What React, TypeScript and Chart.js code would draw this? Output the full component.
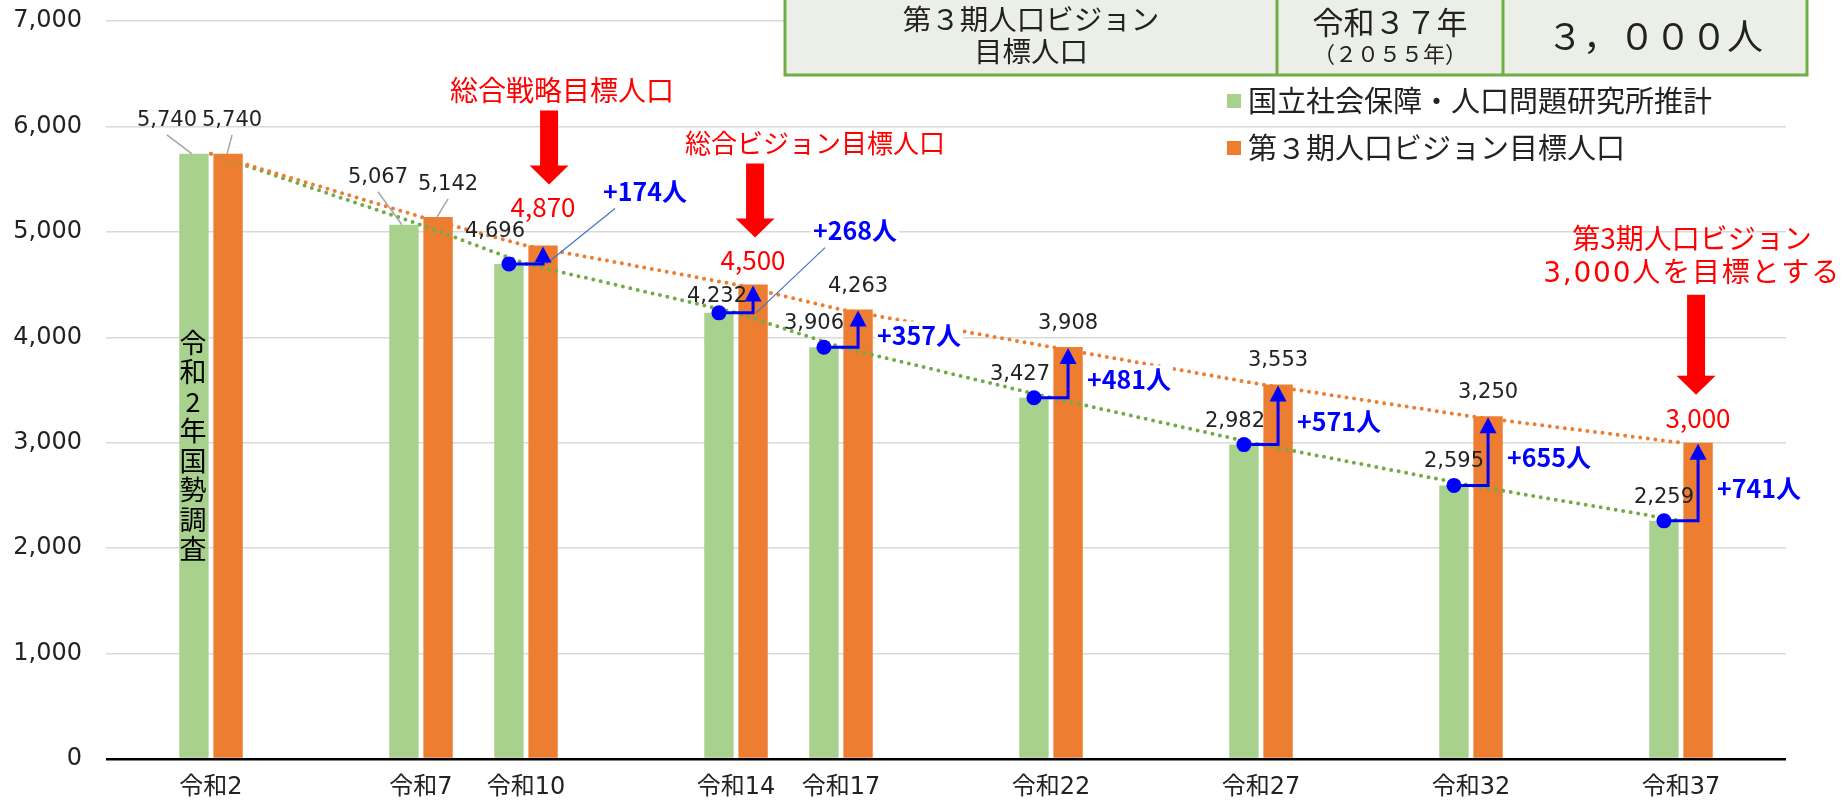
import React, { useEffect, useRef } from 'react';
import { Chart, registerables } from 'chart.js';

Chart.register(...registerables);

// ---------- data ----------
const categories = ['', '令和2', '', '令和7', '令和10', '', '令和14', '令和17', '', '令和22', '', '令和27', '', '令和32', '', '令和37', ''];
const projectedPopulation: (number | null)[] = [null, 5740, null, 5067, 4696, null, 4232, 3906, null, 3427, null, 2982, null, 2595, null, 2259, null];
const targetPopulation: (number | null)[] = [null, 5740, null, 5142, 4870, null, 4500, 4263, null, 3908, null, 3553, null, 3250, null, 3000, null];
const seriesLabels = ['国立社会保障・人口問題研究所推計', '第３期人口ビジョン目標人口'];
const yAxisMin = 0;
const yAxisMax = 7000;
const yAxisStep = 1000;
const gapCategories = ['令和10', '令和14', '令和17', '令和22', '令和27', '令和32', '令和37'];
const gapLeaderCategories = ['令和10', '令和14'];
const highlightCategories = ['令和10', '令和14', '令和37'];
const calloutTexts = [['総合戦略目標人口'], ['総合ビジョン目標人口'], ['第3期人口ビジョン', '3,000人を目標とする']];
const censusNote = '令和2年国勢調査';
const tableVision = ['第３期人口ビジョン', '目標人口'];
const tableYear = ['令和３７年', '（２０５５年）'];
const tableTarget = ['３，０００人'];

// ---------- style ----------
const FONT = '"Noto Sans CJK JP", "Noto Sans", sans-serif';
const NUM_FONT = '"DejaVu Sans", "Noto Sans CJK JP", sans-serif';
const COL = {
  green: '#A9D18E',
  orange: '#ED7D31',
  greenLine: '#70AD47',
  blue: '#0000FF',
  leader: '#4472C4',
  red: '#FF0000',
  text: '#222222',
  grid: '#D9D9D9',
  gray: '#A6A6A6',
  tableBg: '#EBEFE8',
  tableBorder: '#70AD47',
};
const calloutLayout = [
  { lift: 38, arrowDx: 6, arrowLength: 74, textDx: 13, size: 28 },
  { lift: 24, arrowDx: 2, arrowLength: 74, textDx: 60, size: 26 },
  { lift: 25, arrowDx: -2, arrowLength: 100, textDx: -4, size: 28 },
];
const leaderLabelLayout: Record<string, { g: [number, number]; o: [number, number] }> = {
  '令和2': { g: [-27, -33], o: [4, -33] },
  '令和7': { g: [-26, -47], o: [10, -32] },
};
const greenLabelNudge: Record<string, [number, number]> = {
  '令和10': [-14, -32],
  '令和14': [-2, -16],
  '令和17': [-10, -23.5],
  '令和22': [-14, -23.5],
  '令和27': [-9, -23.5],
};

const fmt = (v: number) => v.toLocaleString('en-US');

function drawText(
  ctx: CanvasRenderingContext2D,
  str: string,
  x: number,
  y: number,
  size: number,
  color: string,
  align: CanvasTextAlign = 'center',
  weight = 'normal',
  family = FONT,
  spacing = 0
) {
  ctx.save();
  ctx.font = `${weight} ${size}px ${family}`;
  ctx.fillStyle = color;
  ctx.textAlign = align;
  ctx.textBaseline = 'middle';
  if (spacing) (ctx as any).letterSpacing = `${spacing}px`;
  ctx.fillText(str, x, y);
  ctx.restore();
}

function line(ctx: CanvasRenderingContext2D, pts: number[][], color: string, width: number) {
  ctx.save();
  ctx.strokeStyle = color;
  ctx.lineWidth = width;
  ctx.beginPath();
  pts.forEach((p, k) => (k === 0 ? ctx.moveTo(p[0], p[1]) : ctx.lineTo(p[0], p[1])));
  ctx.stroke();
  ctx.restore();
}

const annotationPlugin = {
  id: 'populationAnnotations',
  afterDatasetsDraw(chart: any) {
    const ctx: CanvasRenderingContext2D = chart.ctx;
    const gMeta = chart.getDatasetMeta(0);
    const oMeta = chart.getDatasetMeta(1);
    const yScale = chart.scales.y;

    // value labels
    categories.forEach((cat, i) => {
      const gv = projectedPopulation[i];
      const ov = targetPopulation[i];
      if (gv == null || ov == null) return;
      const g = gMeta.data[i];
      const o = oMeta.data[i];
      const lead = leaderLabelLayout[cat];
      if (lead) {
        const gx = g.x + lead.g[0], gy = g.y + lead.g[1];
        const ox = o.x + lead.o[0], oy = o.y + lead.o[1];
        line(ctx, [[gx, gy + 14], [g.x - 2, g.y]], COL.gray, 1.5);
        line(ctx, [[ox, oy + 14], [o.x - 1, o.y]], COL.gray, 1.5);
        drawText(ctx, fmt(gv), gx, gy, 21, COL.text, 'center', 'normal', NUM_FONT);
        drawText(ctx, fmt(ov), ox, oy, 21, COL.text, 'center', 'normal', NUM_FONT);
        return;
      }
      const n = greenLabelNudge[cat] || [0, -23.5];
      drawText(ctx, fmt(gv), g.x + n[0], g.y + n[1], 21, COL.text, 'center', 'normal', NUM_FONT);
      const h = highlightCategories.indexOf(cat);
      if (h < 0) drawText(ctx, fmt(ov), o.x, o.y - 23.5, 21, COL.text, 'center', 'normal', NUM_FONT);
    });

    // census note inside first bar
    {
      const i = projectedPopulation.findIndex((v) => v != null);
      const g = gMeta.data[i];
      const startY = yScale.getPixelForValue(3950);
      Array.from(censusNote).forEach((ch, k) => {
        drawText(ctx, ch, g.x - 1, startY + k * 29.5, 27, '#000');
      });
    }

    // gap arrows (blue)
    gapCategories.forEach((cat) => {
      const i = categories.indexOf(cat);
      const gv = projectedPopulation[i] as number;
      const ov = targetPopulation[i] as number;
      const g = gMeta.data[i];
      const o = oMeta.data[i];
      const label = `+${ov - gv}人`;
      let lx: number, ly: number;
      if (gapLeaderCategories.includes(cat)) {
        lx = o.x + 60;
        ly = o.y - 54;
        line(ctx, [[o.x + 3, g.y], [o.x + 72, o.y - 37]], COL.leader, 1.2);
      } else {
        lx = o.x + 19;
        ly = (g.y + o.y) / 2 + 7;
      }
      ctx.save();
      ctx.strokeStyle = COL.blue;
      ctx.lineWidth = 3;
      ctx.beginPath();
      ctx.moveTo(g.x, g.y);
      ctx.lineTo(o.x, g.y);
      ctx.lineTo(o.x, o.y + 15);
      ctx.stroke();
      ctx.fillStyle = COL.blue;
      ctx.beginPath();
      ctx.moveTo(o.x, o.y + 1);
      ctx.lineTo(o.x - 8.5, o.y + 17);
      ctx.lineTo(o.x + 8.5, o.y + 17);
      ctx.closePath();
      ctx.fill();
      ctx.beginPath();
      ctx.arc(g.x, g.y, 7.5, 0, Math.PI * 2);
      ctx.fill();
      ctx.font = `bold 25px ${FONT}`;
      const w = ctx.measureText(label).width;
      ctx.fillStyle = '#fff';
      ctx.fillRect(lx - 2, ly - 14, w + 4, 28);
      ctx.restore();
      drawText(ctx, label, lx, ly, 25, COL.blue, 'left', 'bold');
    });

    // red callouts
    highlightCategories.forEach((cat, k) => {
      const i = categories.indexOf(cat);
      const ov = targetPopulation[i] as number;
      const o = oMeta.data[i];
      const L = calloutLayout[k];
      const valY = o.y - L.lift;
      drawText(ctx, fmt(ov), o.x, valY, 26, COL.red);
      const ax = o.x + L.arrowDx;
      const tip = valY - 23;
      const top = tip - L.arrowLength;
      ctx.save();
      ctx.fillStyle = COL.red;
      ctx.beginPath();
      ctx.moveTo(ax - 9, top);
      ctx.lineTo(ax + 9, top);
      ctx.lineTo(ax + 9, tip - 19);
      ctx.lineTo(ax + 19.5, tip - 19);
      ctx.lineTo(ax, tip);
      ctx.lineTo(ax - 19.5, tip - 19);
      ctx.lineTo(ax - 9, tip - 19);
      ctx.closePath();
      ctx.fill();
      ctx.restore();
      const lines = calloutTexts[k];
      lines.forEach((t, j) => {
        const yy = top - 20 - (lines.length - 1 - j) * 36;
        const numeric = /^[0-9]/.test(t);
        drawText(ctx, t, ax + L.textDx, yy, L.size, COL.red, 'center', 'normal', numeric ? NUM_FONT : FONT, numeric ? 1.8 : 0);
      });
    });
  },
  afterDraw(chart: any) {
    const ctx: CanvasRenderingContext2D = chart.ctx;
    // target table
    const left = 785, right = 1807, top = -3, bottom = 75, d1 = 1277, d2 = 1503;
    ctx.save();
    ctx.fillStyle = COL.tableBg;
    ctx.fillRect(left, top, right - left, bottom - top);
    ctx.strokeStyle = COL.tableBorder;
    ctx.lineWidth = 3;
    ctx.strokeRect(left, top, right - left, bottom - top);
    ctx.beginPath();
    ctx.moveTo(d1, top);
    ctx.lineTo(d1, bottom);
    ctx.moveTo(d2, top);
    ctx.lineTo(d2, bottom);
    ctx.stroke();
    ctx.restore();
    drawText(ctx, tableVision[0], (left + d1) / 2, 19, 28.5, COL.text);
    drawText(ctx, tableVision[1], (left + d1) / 2, 51, 28.5, COL.text);
    drawText(ctx, tableYear[0], (d1 + d2) / 2, 22, 31, COL.text);
    drawText(ctx, tableYear[1], (d1 + d2) / 2, 54, 22, COL.text);
    drawText(ctx, tableTarget[0], (d2 + right) / 2, 36, 36, COL.text);

    // legend
    const colors = [COL.green, COL.orange];
    seriesLabels.forEach((s, k) => {
      const cy = 101 + k * 47;
      ctx.save();
      ctx.fillStyle = colors[k];
      ctx.fillRect(1227, cy - 7, 14, 14);
      ctx.restore();
      drawText(ctx, s, 1248, cy, 29, COL.text, 'left');
    });
  },
};

export default function App() {
  const ref = useRef<HTMLCanvasElement | null>(null);
  useEffect(() => {
    if (!ref.current) return;
    const dotted = { borderWidth: 4, borderDash: [0, 7.6], borderCapStyle: 'round' as const, pointRadius: 0, spanGaps: true, fill: false, tension: 0, order: 1 };
    const chart = new Chart(ref.current, {
      type: 'bar',
      data: {
        labels: categories,
        datasets: [
          { type: 'bar', label: seriesLabels[0], data: projectedPopulation, backgroundColor: COL.green, categoryPercentage: 0.65, barPercentage: 0.86, order: 2 },
          { type: 'bar', label: seriesLabels[1], data: targetPopulation, backgroundColor: COL.orange, categoryPercentage: 0.65, barPercentage: 0.86, order: 2 },
          { type: 'line', label: 'target-trend', data: targetPopulation, borderColor: COL.orange, ...dotted } as any,
          { type: 'line', label: 'projected-trend', data: projectedPopulation, borderColor: COL.greenLine, ...dotted } as any,
        ],
      },
      options: {
        responsive: true,
        maintainAspectRatio: false,
        animation: false,
        layout: { padding: { top: 21, right: 59, bottom: 0, left: 0 } },
        plugins: { legend: { display: false }, tooltip: { enabled: false }, title: { display: false } },
        scales: {
          x: {
            type: 'category',
            offset: false,
            grid: { display: false, drawTicks: false },
            border: { display: false },
            ticks: { autoSkip: false, maxRotation: 0, minRotation: 0, padding: 14, color: COL.text, font: { size: 24, family: NUM_FONT } },
            afterFit: (s: any) => {
              s.height = 42;
              s.paddingLeft = 0;
              s.paddingRight = 0;
            },
          },
          y: {
            min: yAxisMin,
            max: yAxisMax,
            ticks: { stepSize: yAxisStep, padding: 24, color: COL.text, font: { size: 24, family: NUM_FONT }, callback: (v: any) => fmt(Number(v)) },
            grid: {
              drawTicks: false,
              color: (c: any) => (c.tick && c.tick.value === 0 ? '#000' : COL.grid),
              lineWidth: (c: any) => (c.tick && c.tick.value === 0 ? 2.5 : 1.5),
            },
            border: { display: false },
            afterFit: (s: any) => {
              s.width = 106;
              s.paddingTop = 0;
              s.paddingBottom = 0;
            },
          },
        },
      } as any,
      plugins: [annotationPlugin],
    });
    return () => chart.destroy();
  }, []);
  return (
    <div style={{ position: 'absolute', left: 0, top: 0, width: 1845, height: 801, background: '#fff' }}>
      <canvas ref={ref} />
    </div>
  );
}
